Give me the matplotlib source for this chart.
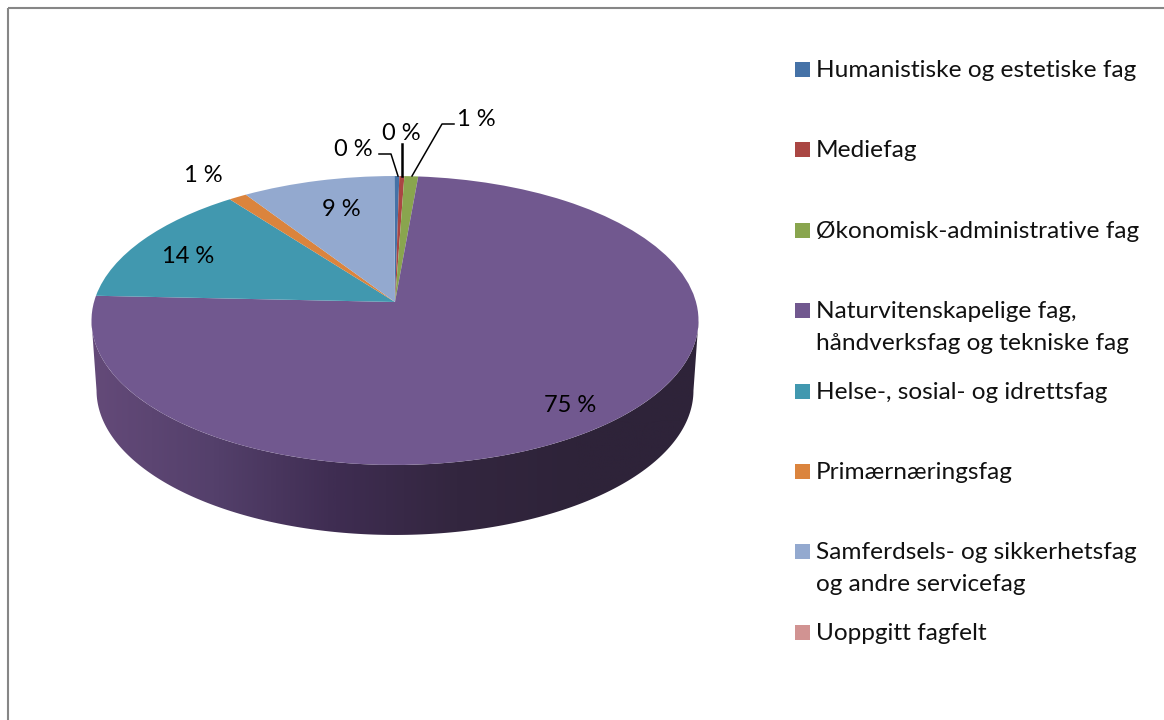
import numpy as np
import matplotlib
matplotlib.use('Agg')
import matplotlib.pyplot as plt
from matplotlib.colors import LinearSegmentedColormap
from matplotlib.patches import Polygon, Rectangle
from matplotlib.transforms import Transform

categories = ['Humanistiske og estetiske fag', 'Mediefag', 'Økonomisk-administrative fag',
              'Naturvitenskapelige fag,\nhåndverksfag og tekniske fag', 'Helse-, sosial- og idrettsfag',
              'Primærnæringsfag', 'Samferdsels- og sikkerhetsfag\nog andre servicefag', 'Uoppgitt fagfelt']
values = [0.30, 0.30, 0.83, 74.3, 13.95, 1.1, 9.2, 0.0]
colors = ['#4572A7', '#AA4643', '#89A54E', '#71588F', '#4198AF', '#DB843D', '#93A9CF', '#D19392']
wall_colors = ['#644A79', '#54406B', '#3F2D52', '#33263F', '#2E2339', '#2E2339']

# data labels: text, x, y
pct_labels = ['0 %', '0 %', '1 %', '75 %', '14 %', '1 %', '9 %']
pct_x = [353, 401.5, 476, 570.5, 188.5, 203.5, 341.5]
pct_y = [149, 133, 120, 406, 256.5, 175, 209]

plt.rcParams['font.family'] = ['Lato', 'DejaVu Sans']
FS = 17.6
LABEL_FS = 17

# the top face is a circle seen in perspective, the apex is not the middle of the ellipse
CX, APEX_Y = 395.0, 302.0
A, C, K = 301.0, 142.1, 0.128
A_BOTTOM, DEPTH = 296.0, 70.0


class Persp(Transform):
    input_dims = 2
    output_dims = 2

    def transform_non_affine(self, values):
        xy = np.asarray(values)
        w = 1 + K * xy[:, 1]
        return np.column_stack([CX + A * xy[:, 0] / w, APEX_Y - C * xy[:, 1] / w])


def rim(theta, a, dy):
    w = 1 + K * np.cos(theta)
    return np.column_stack([CX + a * np.sin(theta) / w, APEX_Y + dy - C * np.cos(theta) / w])


fig = plt.figure(figsize=(11.64, 7.2), dpi=100)
ax = fig.add_axes([0, 0, 1, 1])

wedges, _ = ax.pie(values, colors=colors, startangle=90.15, counterclock=False,
                   wedgeprops=dict(linewidth=0), normalize=True)
persp = Persp()
for w in wedges:
    w.set_transform(persp + ax.transData)
    w.set_zorder(3)

# side wall with the dark gradient
th = np.radians(np.linspace(262.6, 97.4, 200))
wall = np.vstack([rim(th, A, 0), rim(th[::-1], A_BOTTOM, DEPTH)])
wall_patch = Polygon(wall, closed=True, fc='none', ec='none', transform=ax.transData)
ax.add_patch(wall_patch)
cmap = LinearSegmentedColormap.from_list('wall', wall_colors)
im = ax.imshow(np.linspace(0, 1, 600)[None, :], cmap=cmap, aspect='auto',
               extent=(90, 700, 540, 300), zorder=2)
im.set_clip_path(wall_patch)

# frame of the chart area, right and bottom sides are cut off
ax.add_patch(Rectangle((8, 8), 1300, 900, fc='none', ec='#868686', lw=1.5, zorder=1))

# leader lines
ax.plot([379, 391, 398], [154, 154, 176], color='black', lw=1.1, zorder=4)
ax.plot([402.3, 402.3], [144, 176], color='black', lw=1.8, zorder=4)
ax.plot([454, 442, 412], [124, 124, 176], color='black', lw=1.1, zorder=4)

for txt, x, y in zip(pct_labels, pct_x, pct_y):
    ax.text(x, y, txt, ha='center', va='center', fontsize=LABEL_FS, color='black', zorder=5)

# legend, rows are evenly spaced
for i, (name, col) in enumerate(zip(categories, colors)):
    top = 62 + i * 80.4
    ax.add_patch(Rectangle((795, top), 15, 15, fc=col, ec='none', zorder=3))
    for j, line in enumerate(name.split('\n')):
        ax.text(816, top + 15 + j * 32, line, ha='left', va='baseline', fontsize=FS, color='#111111')

ax.set_aspect('auto')
ax.set_xlim(0, 1164)
ax.set_ylim(720, 0)
ax.axis('off')

fig.savefig('out.png', dpi=100, facecolor='white')
